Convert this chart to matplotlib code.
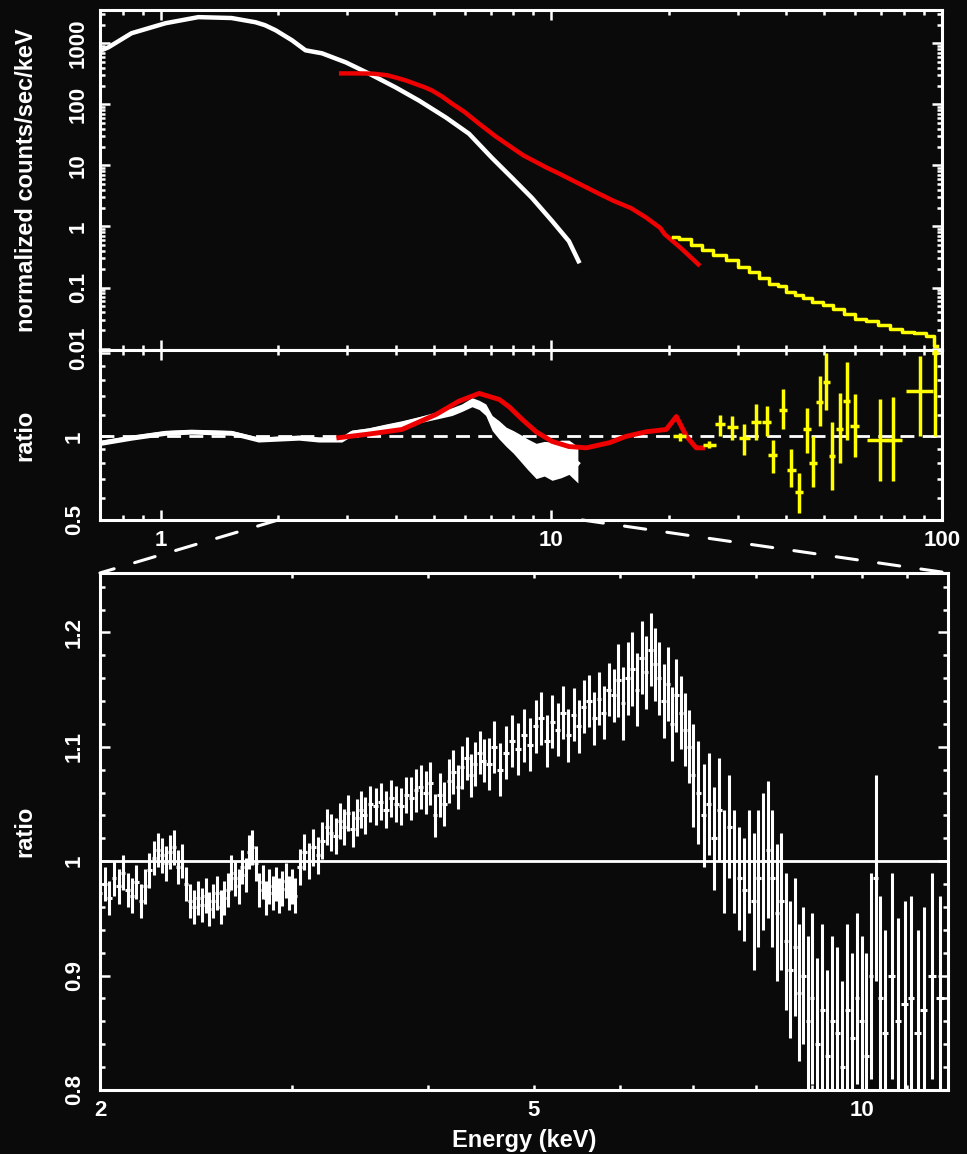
import numpy as np
import matplotlib.pyplot as plt
from matplotlib.ticker import FixedLocator, FixedFormatter, NullFormatter
from matplotlib.patches import ConnectionPatch

plt.rcParams['font.family'] = ['Liberation Sans', 'DejaVu Sans']
plt.rcParams['font.weight'] = 'bold'

# ---- top panel: unfolded counts spectrum ----
e_white = [0.693, 0.706, 0.736, 0.843, 1.03, 1.25, 1.52, 1.75, 1.85, 1.97, 2.17, 2.35,
           2.59, 2.98, 3.41, 4.0, 4.59, 5.38, 6.16, 7.05, 7.94, 8.93, 10.05, 11.1, 11.75]
f_white = [740, 767, 860, 1460, 2130, 2680, 2590, 2210, 1980, 1635, 1120, 767,
           685, 487, 321, 189, 115, 60.7, 33, 13.3, 6.25, 2.93, 1.23, 0.575, 0.27]

e_red = [2.9, 3.2, 3.5, 3.8, 4.0, 4.25, 4.5, 4.75, 4.95, 5.25, 5.57, 6.0, 6.53, 7.2,
         7.94, 8.5, 9.0, 9.7, 10.5, 11.8, 13.3, 14.5, 16.0, 17.5, 19.0, 19.5, 21.5, 23.8]
f_red = [321, 321, 318, 300, 275, 246, 215, 190, 169, 135, 103, 75, 48.5, 30,
         19.5, 14.5, 12, 9.3, 7.3, 5.0, 3.4, 2.6, 2.0, 1.4, 0.95, 0.75, 0.44, 0.24]

e_yel = [20.5, 22, 23.5, 25, 27, 29, 31, 33, 35, 37, 39, 41, 43, 45, 48, 51, 54,
         58, 62, 66, 71, 76, 82, 88, 94, 97]
f_yel = [0.67, 0.62, 0.5, 0.42, 0.34, 0.28, 0.22, 0.18, 0.145, 0.115, 0.105, 0.085,
         0.075, 0.068, 0.058, 0.052, 0.045, 0.037, 0.031, 0.028, 0.024, 0.021, 0.019,
         0.018, 0.016, 0.011]

# ---- middle panel: ratio ----
re_white = [0.706, 0.843, 1.03, 1.20, 1.52, 1.78, 2.26, 2.54, 2.91, 3.09, 3.41, 3.78,
            4.15, 4.59, 5.07, 5.57, 5.9, 6.27, 6.54, 6.8, 7.06, 7.35, 7.67, 8.0, 8.3,
            8.7, 9.15, 9.6, 10.05, 10.6, 11.1, 11.7]
rr_white = [0.95, 0.99, 1.03, 1.04, 1.03, 0.975, 0.99, 0.975, 0.975, 1.03, 1.05, 1.08,
            1.11, 1.15, 1.19, 1.23, 1.27, 1.33, 1.30, 1.25, 1.12, 1.06, 1.0, 0.96, 0.92,
            0.87, 0.825, 0.84, 0.825, 0.84, 0.85, 0.80]
ee_white = [0.02, 0.02, 0.02, 0.02, 0.02, 0.02, 0.02, 0.02, 0.02, 0.025, 0.025, 0.03,
            0.03, 0.03, 0.035, 0.04, 0.04, 0.05, 0.05, 0.06, 0.07, 0.08, 0.08, 0.09, 0.10,
            0.11, 0.12, 0.12, 0.13, 0.13, 0.12, 0.12]

re_red = [2.86, 3.41, 4.15, 5.07, 5.8, 6.54, 7.36, 7.8, 8.44, 9.15, 10.05, 11.1, 12.3,
          14.1, 15.5, 17.5, 19.7, 20.9, 22.2, 23.5, 24.4]
rr_red = [0.99, 1.02, 1.06, 1.2, 1.34, 1.43, 1.36, 1.28, 1.15, 1.04, 0.96, 0.92, 0.91,
          0.95, 1.0, 1.04, 1.06, 1.18, 1.0, 0.91, 0.91]

re_yel = [21.3, 25.4, 27.0, 29.1, 31.2, 33.5, 35.6, 36.9, 39.2, 41.2, 43.0, 45.1, 46.8,
          48.7, 50.6, 52.4, 54.7, 57.0, 59.8, 69.4, 74.9, 88.0, 96.0]
rr_yel = [1.0, 0.935, 1.105, 1.08, 0.99, 1.125, 1.125, 0.86, 1.25, 0.76, 0.63, 1.06, 0.80,
          1.33, 1.57, 0.85, 1.06, 1.34, 1.09, 0.975, 0.975, 1.46, 2.0]
rlo_yel = [0.96, 0.91, 1.0, 0.975, 0.86, 0.975, 1.0, 0.74, 1.06, 0.66, 0.53, 0.875, 0.66,
           1.09, 1.25, 0.64, 0.80, 0.975, 0.84, 0.69, 0.69, 1.0, 1.0]
rhi_yel = [1.03, 0.96, 1.2, 1.185, 1.105, 1.31, 1.285, 0.975, 1.48, 0.9, 0.74, 1.27, 1.0,
           1.65, 2.0, 1.125, 1.44, 1.85, 1.42, 1.36, 1.39, 1.95, 2.3]
rxe_yel = [0.8, 1.0, 0.8, 0.9, 1.0, 1.0, 1.0, 1.0, 1.0, 1.0, 1.0, 1.0, 1.0,
           1.0, 1.0, 1.0, 1.2, 1.2, 1.5, 5.0, 4.0, 7.0, 1.5]

# ---- bottom panel: zoomed ratio 2-12 keV ----
z_energy = [2.00, 2.02, 2.04, 2.06, 2.08, 2.10, 2.12, 2.14, 2.16, 2.18, 2.20,
            2.22, 2.24, 2.26, 2.28, 2.30, 2.32, 2.34, 2.36, 2.38,
            2.40, 2.42, 2.44, 2.46, 2.48, 2.50, 2.52, 2.54, 2.56, 2.58, 2.60, 2.62,
            2.64, 2.66, 2.68, 2.70, 2.72, 2.74, 2.76, 2.78,
            2.80, 2.82, 2.84, 2.86, 2.88, 2.90, 2.92, 2.94, 2.96, 2.98, 3.00, 3.02,
            3.05, 3.08, 3.11, 3.14, 3.17, 3.20, 3.23, 3.26, 3.29, 3.32, 3.35, 3.38,
            3.41, 3.44, 3.47, 3.50, 3.54, 3.58, 3.62, 3.66, 3.70, 3.74, 3.78, 3.82,
            3.86, 3.90, 3.94, 3.98, 4.02, 4.06, 4.10, 4.14, 4.18, 4.22, 4.26, 4.30,
            4.34, 4.38, 4.42, 4.46, 4.50,
            4.55, 4.60, 4.66, 4.72, 4.78, 4.84, 4.90, 4.96, 5.02, 5.08, 5.14, 5.20,
            5.26, 5.32, 5.38, 5.44, 5.50, 5.56, 5.62, 5.68, 5.74, 5.80, 5.86, 5.92,
            5.98, 6.04, 6.10, 6.16, 6.22, 6.28, 6.34, 6.40, 6.46, 6.52, 6.58, 6.64,
            6.70, 6.76, 6.82, 6.88, 6.94,
            7.00, 7.08, 7.16, 7.24, 7.32, 7.40, 7.48, 7.56, 7.64, 7.72, 7.80, 7.88,
            7.96, 8.04, 8.12, 8.20, 8.28, 8.36, 8.44, 8.52, 8.60, 8.68, 8.76, 8.84,
            8.92, 9.00, 9.10, 9.20, 9.30, 9.40, 9.50, 9.60, 9.70, 9.80, 9.90, 10.0,
            10.1, 10.2, 10.3, 10.4, 10.5, 10.65, 10.8, 10.95, 11.1, 11.25, 11.4, 11.6,
            11.8]
z_ratio = [0.972, 0.980, 0.968, 0.985, 0.978, 0.990, 0.975, 0.970, 0.982, 0.965, 0.978,
           0.992, 1.003, 1.010, 1.005, 0.998, 1.008, 1.012, 0.995, 1.000,
           0.980, 0.965, 0.960, 0.968, 0.962, 0.970, 0.958, 0.965, 0.972, 0.960, 0.968, 0.975,
           0.990, 0.985, 0.978, 0.995, 0.988, 1.008, 1.012, 0.998,
           0.975, 0.982, 0.968, 0.978, 0.972, 0.980, 0.970, 0.976, 0.983, 0.972, 0.978, 0.970,
           0.995, 1.008, 1.000, 1.012, 1.005, 1.018, 1.030, 1.025, 1.022, 1.035, 1.030, 1.042,
           1.028, 1.038, 1.045, 1.040, 1.050, 1.048, 1.052, 1.045, 1.055, 1.050, 1.048, 1.058,
           1.055, 1.062, 1.065, 1.060, 1.068, 1.040, 1.058, 1.050, 1.070, 1.078, 1.065, 1.082,
           1.090, 1.075, 1.085, 1.095, 1.088,
           1.085, 1.100, 1.080, 1.095, 1.105, 1.098, 1.110, 1.102, 1.118, 1.125, 1.105, 1.122,
           1.115, 1.130, 1.110, 1.128, 1.118, 1.135, 1.140, 1.125, 1.142, 1.130, 1.150, 1.145,
           1.158, 1.138, 1.160, 1.168, 1.150, 1.178, 1.165, 1.185, 1.172, 1.160, 1.140, 1.155,
           1.120, 1.145, 1.130, 1.115, 1.100,
           1.075, 1.060, 1.040, 1.050, 1.020, 1.045, 1.000, 1.030, 1.000, 0.985, 0.975, 1.000,
           0.965, 0.985, 1.000, 1.010, 0.985, 0.955, 0.965, 0.930, 0.905, 0.925, 0.885, 0.900,
           0.860, 0.880, 0.840, 0.870, 0.830, 0.860, 0.850, 0.820, 0.870, 0.845, 0.880, 0.860,
           0.830, 0.900, 0.985, 0.880, 0.850, 0.900, 0.860, 0.875, 0.880, 0.850, 0.870, 0.900,
           0.880]
z_err = ([0.015] * 40 + [0.015] * 12 + [0.016] * 24 + [0.019] * 17 +
         [0.023] * 24 + [0.032] * 17 +
         [0.045] * 12 + [0.060] * 12 + [0.075] * 12 + [0.090] * 13)

FG = 'white'
BG = '#0a0a0a'
YEL = '#ffff00'
RED = '#ee0000'

fig = plt.figure(figsize=(9.67, 11.54), dpi=100, facecolor=BG)
ax_top = fig.add_axes([0.1034, 0.6967, 0.8707, 0.2946])
ax_mid = fig.add_axes([0.1034, 0.5494, 0.8707, 0.1473])
ax_bot = fig.add_axes([0.1034, 0.0555, 0.8770, 0.4480])


def style(ax):
    ax.set_facecolor(BG)
    for s in ax.spines.values():
        s.set_color(FG)
        s.set_linewidth(2.2)
    ax.tick_params(which='both', direction='in', top=True, right=True, colors=FG,
                   width=1.8, labelsize=16, pad=7)
    ax.tick_params(which='major', length=7)
    ax.tick_params(which='minor', length=3.5)


for ax in (ax_top, ax_mid, ax_bot):
    style(ax)

log_minor = [0.8, 0.9, 2, 3, 4, 5, 6, 7, 8, 9, 20, 30, 40, 50, 60, 70, 80, 90]

# top panel
ax_top.set_xscale('log')
ax_top.set_yscale('log')
ax_top.plot(e_white, f_white, color=FG, lw=3.2, solid_joinstyle='round')
ax_top.plot(e_red, f_red, color=RED, lw=3.2, solid_joinstyle='round')
ax_top.plot(e_yel, f_yel, color=YEL, lw=2.5, drawstyle='steps-mid')
ax_top.set_xlim(0.7, 100)
ax_top.set_ylim(0.0095, 3500)
ax_top.xaxis.set_major_locator(FixedLocator([1, 10, 100]))
ax_top.xaxis.set_minor_locator(FixedLocator(log_minor))
ax_top.xaxis.set_major_formatter(NullFormatter())
ax_top.xaxis.set_minor_formatter(NullFormatter())
ax_top.yaxis.set_major_locator(FixedLocator([0.01, 0.1, 1, 10, 100, 1000]))
ax_top.yaxis.set_major_formatter(FixedFormatter(['0.01', '0.1', '1', '10', '100', '1000']))
ax_top.yaxis.set_minor_locator(FixedLocator([m * 10.0 ** d for d in range(-2, 4)
                                             for m in range(2, 10)]))
ax_top.yaxis.set_minor_formatter(NullFormatter())
ax_top.tick_params(axis='y', labelrotation=90, pad=8)
ax_top.set_ylabel('normalized counts/sec/keV', color=FG, fontsize=17, fontweight='bold')
ax_top.yaxis.set_label_coords(-0.074, 0.5)

# middle panel
ax_mid.set_xscale('log')
ax_mid.set_yscale('log')
ax_mid.axhline(1, color=FG, lw=2, linestyle=(0, (5, 3)), zorder=1)
rw = np.array(rr_white)
ew = np.array(ee_white)
ax_mid.fill_between(re_white, rw - ew, rw + ew, color=FG, lw=0, zorder=2)
ax_mid.plot(re_white, rr_white, color=FG, lw=3, zorder=2)
ax_mid.plot(re_red, rr_red, color=RED, lw=3.5, zorder=3)
yr = np.array(rr_yel)
ax_mid.errorbar(re_yel, rr_yel, xerr=rxe_yel,
                yerr=[yr - np.array(rlo_yel), np.array(rhi_yel) - yr],
                fmt='none', ecolor=YEL, elinewidth=2.5, capsize=0, zorder=4)
ax_mid.set_xlim(0.7, 100)
ax_mid.set_ylim(0.5, 2.05)
ax_mid.xaxis.set_major_locator(FixedLocator([1, 10, 100]))
ax_mid.xaxis.set_major_formatter(FixedFormatter(['1', '10', '100']))
ax_mid.xaxis.set_minor_locator(FixedLocator(log_minor))
ax_mid.xaxis.set_minor_formatter(NullFormatter())
ax_mid.yaxis.set_major_locator(FixedLocator([0.5, 1, 2]))
ax_mid.yaxis.set_major_formatter(FixedFormatter(['0.5', '1', '']))
ax_mid.yaxis.set_minor_locator(FixedLocator([0.6, 0.7, 0.8, 0.9, 1.2, 1.4, 1.6, 1.8]))
ax_mid.yaxis.set_minor_formatter(NullFormatter())
ax_mid.tick_params(axis='y', labelrotation=90, pad=11)
ax_mid.set_ylabel('ratio', color=FG, fontsize=17, fontweight='bold')
ax_mid.yaxis.set_label_coords(-0.076, 0.5)

# bottom panel
ze = np.array(z_energy)
ax_bot.set_xscale('log')
ax_bot.axhline(1, color=FG, lw=2, zorder=1)
ax_bot.errorbar(z_energy, z_ratio, xerr=np.gradient(ze) / 2, yerr=z_err,
                fmt='none', ecolor=FG, elinewidth=2.2, capsize=0, zorder=2)
ax_bot.set_xlim(2, 12)
ax_bot.set_ylim(0.8, 1.252)
ax_bot.xaxis.set_major_locator(FixedLocator([2, 5, 10]))
ax_bot.xaxis.set_major_formatter(FixedFormatter(['2', '5', '10']))
ax_bot.xaxis.set_minor_locator(FixedLocator([3, 4, 6, 7, 8, 9, 11]))
ax_bot.xaxis.set_minor_formatter(NullFormatter())
ax_bot.tick_params(axis='x', which='both', length=3.5)
ax_bot.yaxis.set_major_locator(FixedLocator([0.8, 0.9, 1.0, 1.1, 1.2]))
ax_bot.yaxis.set_major_formatter(FixedFormatter(['0.8', '0.9', '1', '1.1', '1.2']))
ax_bot.yaxis.set_minor_locator(FixedLocator(np.arange(0.82, 1.25, 0.02)))
ax_bot.yaxis.set_minor_formatter(NullFormatter())
ax_bot.tick_params(axis='y', labelrotation=90, pad=11)
ax_bot.set_ylabel('ratio', color=FG, fontsize=17, fontweight='bold')
ax_bot.yaxis.set_label_coords(-0.075, 0.5)
ax_bot.set_xlabel('Energy (keV)', color=FG, fontsize=17, fontweight='bold', labelpad=6)

# zoom connectors
for ex in (2, 12):
    con = ConnectionPatch(xyA=(ex, 0.5), coordsA='data', axesA=ax_mid,
                          xyB=(ex, 1.252), coordsB='data', axesB=ax_bot,
                          color=FG, lw=2.2, linestyle=(0, (7, 7)))
    fig.add_artist(con)

fig.canvas.draw()
for ax in (ax_top, ax_mid, ax_bot):
    for lab in ax.get_yticklabels():
        lab.set_verticalalignment('center')

fig.savefig('out.png', dpi=100, facecolor=BG)
